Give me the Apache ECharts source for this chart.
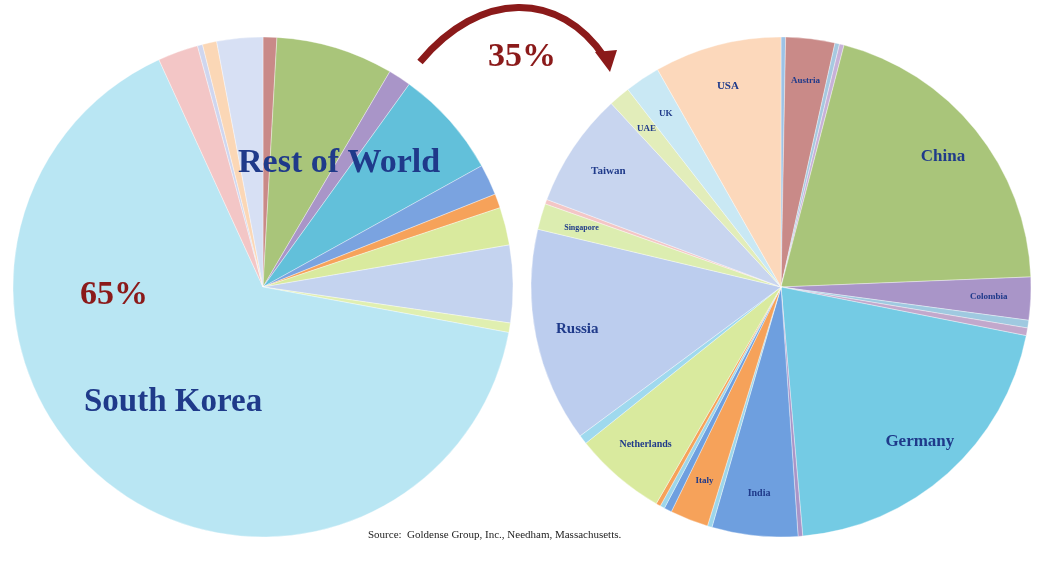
<!DOCTYPE html>
<html><head><meta charset="utf-8">
<script src="https://cdn.jsdelivr.net/npm/echarts@6/dist/echarts.min.js"></script>
<style>html,body{margin:0;background:#fff}#c{width:1050px;height:561px}</style>
</head><body><div id="c"></div>
<script>
// Left pie: world split (degrees-proportional shares)
const leftNames = ["Austria","China","Colombia","Germany","India","Italy","Netherlands","Russia","Singapore","South Korea","Taiwan","UAE","UK","USA"];
const leftValues = [3.2,27.3,5.3,25.2,7.2,3.3,8.8,18,2.2,234.9,9.4,1.2,3.3,10.7];
const leftColors = ["#c98a88","#a9c57a","#a995c8","#62c0da","#7aa3e0","#f6a25a","#d9ea9e","#c4d3ef","#e0efb0","#b9e6f3","#f3c6c6","#cfd6ef","#fbd7b6","#d7e0f4"];
// Right pie: rest of world breakdown (35%)
const rightNames = ["s1","Austria","s2","s3","China","Colombia","s4","s5","Germany","s6","India","s7","Italy","s8","s9","s10","Netherlands","s11","Russia","Singapore","s12","Taiwan","UAE","UK","USA"];
const rightValues = [0.3,3.2,0.3,0.3,20.5,2.8,0.5,0.5,20.7,0.3,5.6,0.3,2.5,0.5,0.3,0.3,6,0.6,14,1.7,0.3,7.5,1.4,2.3,8.3];
const rightColors = ["#9dc3e6","#c98a88","#a6c9e0","#c7b1d8","#a9c57a","#a995c8","#9fc9e0","#c2a8cc","#74cbe4","#a995c8","#6e9fdf","#9dd6ea","#f6a25a","#6e9fdf","#9dd6ea","#f6a25a","#d9ea9e","#9fd9ee","#bccdee","#dcedb0","#f3c6c6","#c8d5ef","#e2edba","#c9e8f4","#fcd8bb"];
const rightLabelSizes = {Austria:9,China:17,Colombia:9,Germany:17,India:10,Italy:9,Netherlands:10,Russia:15,Singapore:8,Taiwan:11,UAE:9,UK:9,USA:11};

const mk = (names, vals, cols) => names.map((n,i)=>({name:n,value:vals[i],itemStyle:{color:cols[i]}}));
const rightLabelData = rightNames.map((n,i)=>({name:n,value:rightValues[i],
  label:{show: !!rightLabelSizes[n], fontSize: rightLabelSizes[n]||8}}));

const chart = echarts.init(document.getElementById('c'));
chart.setOption({
  backgroundColor:'#fff',
  animation:false,
  series:[
    {type:'pie',center:[263,287],radius:[0,250],startAngle:90,silent:true,
     data:mk(leftNames,leftValues,leftColors),label:{show:false},labelLine:{show:false},
     itemStyle:{borderColor:'rgba(255,255,255,0.6)',borderWidth:0.6}},
    {type:'pie',center:[781,287],radius:[0,250],startAngle:90,silent:true,
     data:mk(rightNames,rightValues,rightColors),label:{show:false},labelLine:{show:false},
     itemStyle:{borderColor:'rgba(255,255,255,0.6)',borderWidth:0.6}},
    {type:'pie',center:[781,287],radius:[160,250],startAngle:90,silent:true,
     data:rightLabelData,itemStyle:{color:'rgba(0,0,0,0)'},labelLine:{show:false},
     label:{position:'inside',formatter:'{b}',color:'#1f3a8a',fontFamily:'Liberation Serif',fontWeight:'bold'}}
  ],
  graphic:[
    {type:'text',z:100,left:238,top:146,style:{text:'Rest of World',font:'bold 34px "Liberation Serif"',fill:'#1f3a8a'}},
    {type:'text',z:100,left:80,top:278,style:{text:'65%',font:'bold 34px "Liberation Serif"',fill:'#8b1a1a'}},
    {type:'text',z:100,left:84,top:386,style:{text:'South Korea',font:'bold 33px "Liberation Serif"',fill:'#1f3a8a'}},
    {type:'text',z:100,left:488,top:40,style:{text:'35%',font:'bold 34px "Liberation Serif"',fill:'#8b1a1a'}},
    {type:'text',z:100,left:368,top:530,style:{text:'Source:  Goldense Group, Inc., Needham, Massachusetts.',font:'11px "Liberation Serif"',fill:'#222'}},
    {type:'bezierCurve',z:100,shape:{x1:420,y1:62,cpx1:480,cpy1:-10,x2:605,y2:58,cpx2:560,cpy2:-10},style:{stroke:'#8b1a1a',lineWidth:7,fill:null}},
    {type:'polygon',z:100,shape:{points:[[595,52],[617,50],[610,72]]},style:{fill:'#8b1a1a'}}
  ]
});
</script></body></html>
